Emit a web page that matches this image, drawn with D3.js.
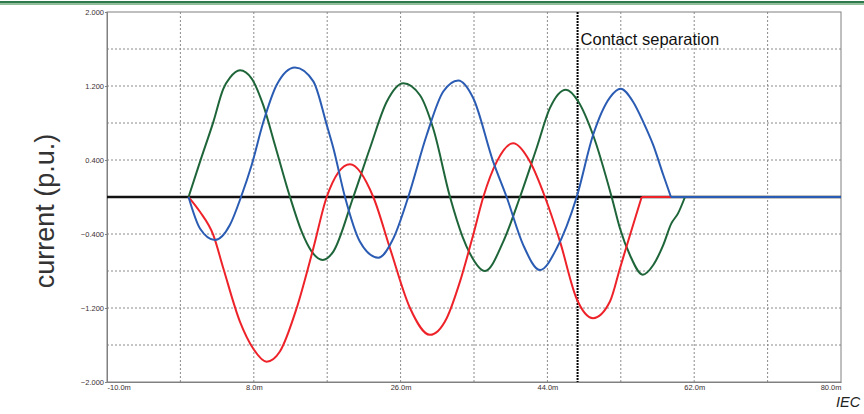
<!DOCTYPE html>
<html>
<head>
<meta charset="utf-8">
<script src="https://cdn.jsdelivr.net/npm/d3@7"></script>
<style>
  body { margin: 0; background: #fff; }
  svg { display: block; font-family: "Liberation Sans", Arial, sans-serif; }
</style>
</head>
<body>
<svg id="chart" width="864" height="414"></svg>
<script>
// time in ms, current in p.u.
let green_t = [0, 1.4, 3.03, 4.26, 5.08, 6.31, 7.74, 9.17, 10.6, 12.44, 13.87, 15.1, 16.45, 17.75, 20.2, 22.25, 24.3, 26.33, 28.38, 30.0, 32.06, 33.6, 34.5, 36.35, 38.6, 40.64, 42.68, 44.3, 46.28, 47.8, 49.6, 51.88, 52.9, 54.13, 55.68, 56.98, 58.2, 59.2, 60.0, 60.87, 80];
let green_v = [0, 0.38, 0.81, 1.17, 1.29, 1.37, 1.28, 0.99, 0.56, 0, -0.375, -0.59, -0.68, -0.59, 0, 0.53, 1.03, 1.23, 1.10, 0.74, 0, -0.43, -0.61, -0.80, -0.48, 0, 0.53, 0.96, 1.16, 1.03, 0.67, 0, -0.34, -0.63, -0.84, -0.735, -0.52, -0.285, -0.18, 0, 0];

let blue_t = [0, 1.4, 3.24, 5.08, 6.43, 7.74, 9.17, 10.8, 13.05, 15.3, 16.94, 17.75, 19.18, 21.0, 23.27, 25.1, 26.94, 29.2, 31.23, 33.07, 34.9, 37.36, 39.0, 41.04, 43.1, 45.14, 47.59, 49.6, 51.7, 52.98, 54.5, 55.76, 56.98, 58.2, 59.15, 80];
let blue_v = [0, -0.34, -0.465, -0.30, 0, 0.346, 0.81, 1.21, 1.40, 1.25, 0.78, 0.53, 0, -0.48, -0.656, -0.45, 0, 0.67, 1.14, 1.26, 1.07, 0.38, 0, -0.52, -0.79, -0.555, 0, 0.67, 1.08, 1.17, 1.03, 0.81, 0.56, 0.24, 0, 0];

let red_t = [0, 1.4, 3.03, 4.26, 6.31, 7.94, 9.58, 11.2, 13.26, 15.3, 16.94, 19.79, 22.65, 24.7, 27.15, 29.6, 31.65, 33.28, 34.9, 36.14, 37.78, 39.8, 41.87, 43.7, 45.54, 47.59, 49.6, 51.67, 52.9, 54.13, 55.56, 80];
let red_v = [0, -0.16, -0.41, -0.77, -1.35, -1.64, -1.78, -1.67, -1.20, -0.555, 0, 0.353, 0, -0.555, -1.20, -1.49, -1.31, -0.915, -0.41, 0, 0.38, 0.58, 0.38, 0, -0.48, -1.10, -1.31, -1.13, -0.77, -0.41, 0, 0];

let xTicks = [-10, 8, 26, 44, 62, 80];
let yTicks = [-2, -1.2, -0.4, 0.4, 1.2, 2];
let contactSeparation = 47.7;

let svg = d3.select("#chart");
let x = d3.scaleLinear().domain([-10, 80]).range([107, 841]);
let y = d3.scaleLinear().domain([-2, 2]).range([382, 12]);

// green banner on top
svg.append("rect").attr("x", 0).attr("y", 1).attr("width", 864).attr("height", 2.5).attr("fill", "#2f7a4a");
svg.append("rect").attr("x", 0).attr("y", 3.5).attr("width", 864).attr("height", 1.5).attr("fill", "#8fbf9a");

// grid
let xGrid = d3.range(-1, 80, 9);
let yGrid = d3.range(-1.6, 2, 0.4);
svg.append("g").selectAll("line").data(xGrid).join("line")
    .attr("x1", d => x(d)).attr("x2", d => x(d))
    .attr("y1", y(2)).attr("y2", y(-2))
    .attr("stroke", "#8a8a8a").attr("stroke-dasharray", "2,2");
svg.append("g").selectAll("line").data(yGrid).join("line")
    .attr("x1", x(-10)).attr("x2", x(80))
    .attr("y1", d => y(d)).attr("y2", d => y(d))
    .attr("stroke", "#8a8a8a").attr("stroke-dasharray", "2,2");

// frame
svg.append("rect").attr("x", x(-10)).attr("y", y(2))
    .attr("width", x(80) - x(-10)).attr("height", y(-2) - y(2))
    .attr("fill", "none").attr("stroke", "#808080");

// axes
let yAxis = svg.append("g").attr("transform", `translate(${x(-10)},0)`)
    .call(d3.axisLeft(y).tickValues(yTicks).tickSize(2).tickPadding(1).tickFormat(d3.format(".3f")));
let xAxis = svg.append("g").attr("transform", `translate(0,${y(-2)})`)
    .call(d3.axisBottom(x).tickValues(xTicks).tickSize(0).tickPadding(3).tickFormat(d => d.toFixed(1) + "m"));
[yAxis, xAxis].forEach(a => {
    a.select(".domain").attr("stroke", "#808080");
    a.selectAll("line").attr("stroke", "#808080");
    a.selectAll("text").attr("font-size", "7.5px").attr("fill", "#3a3030")
        .attr("font-family", "Liberation Sans, Arial, sans-serif");
});
xAxis.selectAll("text").attr("text-anchor", (d, i) => i == 0 ? "start" : (i == xTicks.length - 1 ? "end" : "middle"));

// zero line
svg.append("line").attr("x1", x(-10)).attr("x2", x(80))
    .attr("y1", y(0)).attr("y2", y(0))
    .attr("stroke", "#111").attr("stroke-width", 2.5);

// contact separation marker
svg.append("line").attr("x1", x(contactSeparation)).attr("x2", x(contactSeparation))
    .attr("y1", y(2)).attr("y2", y(-2))
    .attr("stroke", "#000").attr("stroke-width", 2).attr("stroke-dasharray", "2,1");
svg.append("text").attr("x", x(contactSeparation) + 3).attr("y", 45)
    .attr("font-size", "16.5px").attr("fill", "#111").text("Contact separation");

// phase currents
let wave = d3.line().x(d => x(d[0])).y(d => y(d[1])).curve(d3.curveMonotoneX);
let flat = d3.line().x(d => x(d[0])).y(d => y(d[1]));
function drawPhase(ts, vs, color) {
    let pts = ts.map((t, i) => [t, vs[i]]);
    svg.append("path").attr("d", wave(pts.slice(0, -1)))
        .attr("fill", "none").attr("stroke", color).attr("stroke-width", 2);
    svg.append("path").attr("d", flat(pts.slice(-2)))
        .attr("fill", "none").attr("stroke", color).attr("stroke-width", 2);
}
drawPhase(green_t, green_v, "#1f653a");
drawPhase(red_t, red_v, "#ee2229");
drawPhase(blue_t, blue_v, "#2b5cb3");

// y label
svg.append("text").attr("transform", "translate(54,211) rotate(-90)")
    .attr("text-anchor", "middle").attr("font-size", "27px").attr("fill", "#333")
    .text("current (p.u.)");

svg.append("text").attr("x", 836).attr("y", 407)
    .attr("font-size", "14.5px").attr("font-style", "italic").attr("fill", "#222")
    .text("IEC");
</script>
</body>
</html>
